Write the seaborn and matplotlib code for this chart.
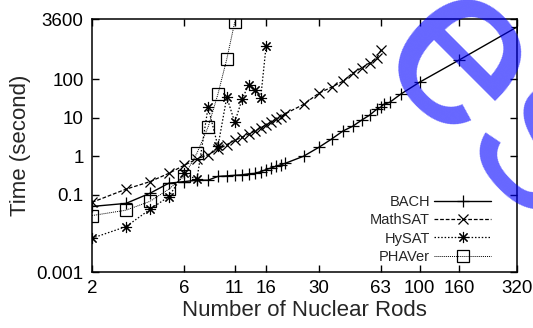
import numpy as np
import pandas as pd
import matplotlib
matplotlib.use("Agg")
import matplotlib.pyplot as plt
import seaborn as sns

# data (number of rods -> time in seconds)
bach_n = [2, 3, 4, 5, 6, 7, 8, 9, 10, 11, 12, 13, 14, 15, 16, 17, 18, 19, 20,
          25, 30, 35, 40, 45, 50, 55, 60, 63, 65, 70, 80, 100, 160, 320]
bach_t = [0.05, 0.06, 0.11, 0.20, 0.22, 0.24, 0.24, 0.30, 0.31, 0.32, 0.33, 0.35,
          0.36, 0.40, 0.45, 0.50, 0.55, 0.60, 0.65,
          1.0, 1.7, 2.8, 4.5, 6.0, 8.6, 11.6, 16.6, 18.8, 22, 25, 41, 83, 310, 2240]

mathsat_n = [2, 3, 4, 5, 6, 7, 8, 9, 10, 11, 12, 13, 14, 15, 16, 17, 18, 19, 20,
             25, 30, 35, 40, 45, 50, 55, 60, 63]
mathsat_t = [0.064, 0.14, 0.22, 0.36, 0.58, 0.85, 1.1, 1.5, 2.0, 2.6, 3.1, 3.8,
             4.5, 5.5, 6.5, 7.6, 9.0, 10.5, 12.5,
             22, 43, 62, 88, 143, 194, 260, 350, 565]

hysat_n = [2, 3, 4, 5, 6, 7, 8, 9, 10, 11, 12, 13, 14, 15, 16]
hysat_t = [0.0075, 0.015, 0.042, 0.09, 0.36, 0.25, 18.7, 1.8, 34, 7.6, 30, 72,
           53, 33, 740]

phaver_n = [2, 3, 4, 5, 6, 7, 8, 9, 10, 11]
phaver_t = [0.029, 0.04, 0.068, 0.14, 0.30, 1.2, 5.7, 41, 330, 3000]

x_ticks = [2, 6, 11, 16, 30, 63, 100, 160, 320]
y_ticks = [0.001, 0.1, 1, 10, 100, 3600]
y_tick_labels = ["0.001", "0.1", "1", "10", "100", "3600"]

sns.set_style("ticks")
plt.rcParams["font.family"] = ["Liberation Sans", "DejaVu Sans"]

fig = plt.figure(figsize=(5.33, 3.28), dpi=100)
ax = fig.add_axes([0.1726, 0.1707, 0.7974, 0.7713])

sns.lineplot(x=bach_n, y=bach_t, ax=ax, color="k", lw=1.0, linestyle="-",
             marker="+", markersize=9, markeredgewidth=0.9, markeredgecolor="k",
             label="BACH")
sns.lineplot(x=mathsat_n, y=mathsat_t, ax=ax, color="k", lw=0.9, linestyle=(0, (3, 1.5)),
             marker="x", markersize=7, markeredgewidth=0.9, markeredgecolor="k",
             label="MathSAT")
sns.lineplot(x=hysat_n, y=hysat_t, ax=ax, color="k", lw=0.9, linestyle=(0, (1.2, 1.5)),
             marker=(8, 2, 0), markersize=8, markeredgewidth=0.8, markeredgecolor="k",
             label="HySAT")
sns.lineplot(x=phaver_n, y=phaver_t, ax=ax, color="k", lw=0.7, linestyle=(0, (1, 1)),
             marker="s", markersize=8, markeredgewidth=0.9, markerfacecolor="none",
             markeredgecolor="k", label="PHAVer")

ax.set_xscale("log")
ax.set_yscale("log")
ax.set_xlim(2, 320)
ax.set_ylim(0.001, 3600)
ax.set_xticks(x_ticks)
ax.set_xticklabels([str(v) for v in x_ticks])
ax.set_yticks(y_ticks)
ax.set_yticklabels(y_tick_labels)
ax.minorticks_off()
ax.tick_params(direction="in", top=True, right=True, length=5, width=1,
               labelsize=13.5, pad=6, colors="k")
for s in ax.spines.values():
    s.set_linewidth(1.1)
    s.set_color("k")

ax.set_xlabel("Number of Nuclear Rods", fontsize=16, labelpad=2)
ax.set_ylabel("Time (second)", fontsize=16, labelpad=4)

ax.legend(loc="lower right", bbox_to_anchor=(0.97, -0.02), frameon=False,
          markerfirst=False, handlelength=3.9, fontsize=10.5,
          labelspacing=0.3, handletextpad=0.3)

# watermark overlay
fig.text(0.93, 0.67, "es", fontsize=165, color="blue", alpha=0.6,
         rotation=-45, ha="center", va="center", rotation_mode="anchor", zorder=10)

fig.savefig("out.png", dpi=100)
